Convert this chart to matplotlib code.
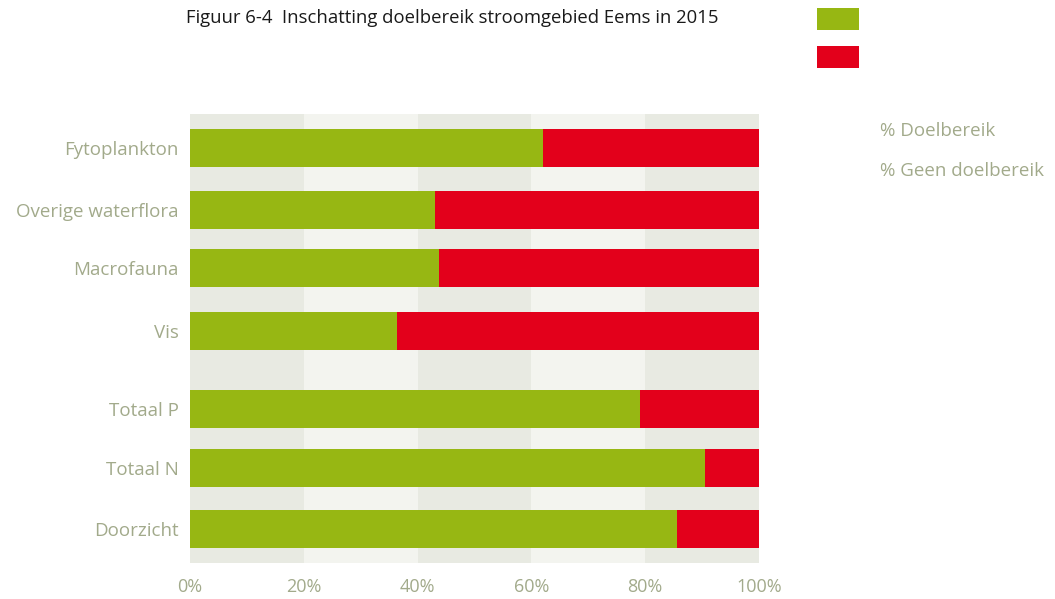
import matplotlib.pyplot as plt
from matplotlib.patches import Rectangle

categories = ['Fytoplankton', 'Overige waterflora', 'Macrofauna', 'Vis',
              'Totaal P', 'Totaal N', 'Doorzicht']
doelbereik = [62.0, 43.0, 43.7, 36.4, 79.0, 90.5, 85.6]
geen_doelbereik = [100 - v for v in doelbereik]
xticks = [0, 20, 40, 60, 80, 100]
xticklabels = ['0%', '20%', '40%', '60%', '80%', '100%']
legend_labels = ['% Doelbereik', '% Geen doelbereik']
title = 'Figuur 6-4  Inschatting doelbereik stroomgebied Eems in 2015'

# layout: bar centres (pixel rows of the original), with a gap before Totaal P
ypos = [148, 210, 268, 331, 409, 468, 529]

green = '#97b713'
red = '#e3001b'
band_dark = '#e8eae2'
band_light = '#f3f4ef'
text_col = '#a2aa8b'

plt.rcParams['font.family'] = ['Open Sans', 'DejaVu Sans']

fig = plt.figure(figsize=(10.55, 5.99), dpi=100)
ax = fig.add_axes([190 / 1055, 1 - 563 / 599, 569 / 1055, 449 / 599])

# alternating column bands
for i in range(5):
    ax.axvspan(i * 20, (i + 1) * 20, color=band_dark if i % 2 == 0 else band_light,
               lw=0, zorder=0)

ax.barh(ypos, doelbereik, height=38, color=green, lw=0, zorder=2)
ax.barh(ypos, geen_doelbereik, left=doelbereik, height=38, color=red, lw=0, zorder=2)

ax.set_xlim(0, 100)
ax.set_ylim(563, 114)
ax.set_yticks(ypos)
ax.set_yticklabels(categories, fontsize=13.5, color=text_col)
ax.set_xticks(xticks)
ax.set_xticklabels(xticklabels, fontsize=13, color=text_col)
ax.tick_params(length=0)
ax.tick_params(axis='y', pad=8)
ax.tick_params(axis='x', pad=11)
for s in ax.spines.values():
    s.set_visible(False)

fig.text(186 / 1055, 1 - 18 / 599, title, fontsize=13.3, color='#1a1a1a',
         va='center', ha='left')

# legend swatches and labels (placed apart as in the original)
fig.patches.append(Rectangle((817 / 1055, 1 - 30 / 599), 42 / 1055, 22 / 599,
                             transform=fig.transFigure, color=green, lw=0))
fig.patches.append(Rectangle((817 / 1055, 1 - 68 / 599), 42 / 1055, 22 / 599,
                             transform=fig.transFigure, color=red, lw=0))
fig.text(880 / 1055, 1 - 131 / 599, legend_labels[0], fontsize=13.5,
         color=text_col, va='center', ha='left')
fig.text(880 / 1055, 1 - 171 / 599, legend_labels[1], fontsize=13.5,
         color=text_col, va='center', ha='left')

fig.savefig('out.png', dpi=100)
